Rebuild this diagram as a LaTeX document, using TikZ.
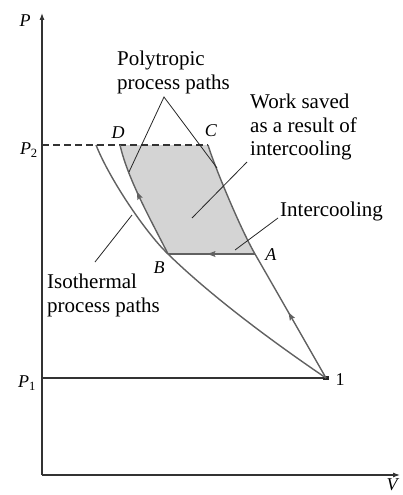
\documentclass[tikz,border=0pt]{standalone}
\usepackage{fontspec}
\setmainfont{Liberation Serif}
\usepackage{tikz}
\usetikzlibrary{arrows.meta,positioning,decorations.markings}

\begin{document}
\begin{tikzpicture}[x=1pt, y=-1pt, >=Latex,
  axis/.style={draw=black!80, line width=1.1pt},
  proc/.style={draw=black!62, line width=1.4pt},
  leader/.style={draw=black!85, line width=0.8pt},
  midarrow/.style={postaction={decorate}, decoration={markings,
    mark=at position #1 with {\fill[black!62] (4pt,0pt) -- (-4pt,3pt) -- (-2.5pt,0pt) -- (-4pt,-3pt) -- cycle;}}},
  note/.style={align=left, inner sep=0pt, font=\fontsize{21}{23.5}\selectfont},
  lbl/.style={inner sep=0pt, font=\fontsize{18}{20}\selectfont}]
  \useasboundingbox (0,0) rectangle (402,495);

  % states on the P-V diagram
  \coordinate (O) at (42,475);
  \coordinate (s1) at (326,378);
  \coordinate (A) at (255,254);
  \coordinate (B) at (168,254);
  \coordinate (C) at (208,145);
  \coordinate (D) at (120,145);
  \coordinate (T) at (96,145);
  \coordinate (ytop) at (42,13);
  \coordinate (xend) at (400,475);
  \coordinate (p2) at (42,145);
  \coordinate (p1) at (42,378);

  % work saved
  \fill[black!17] (D) -- (C) .. controls (214,165) and (240,228) .. (A) -- (B)
    .. controls (152,222) and (128,180) .. (D) -- cycle;

  % axes and pressure levels
  \draw[axis, -{Latex[length=7pt,width=5pt]}] (O) -- (ytop);
  \draw[axis, -{Latex[length=7pt,width=5pt]}] (O) -- (xend);
  \draw[axis, dashed, dash pattern=on 7pt off 4pt] (p2) -- (C);
  \draw[axis] (p1) -- (s1);
  \fill[black!85] (s1) ++(-3,-1.6) rectangle ++(6,3.2);

  % process paths
  \draw[proc, midarrow=0.5] (s1) .. controls (302,336) and (278,294) .. (A);
  \draw[proc] (A) .. controls (240,228) and (214,165) .. (C);
  \draw[proc] (s1) .. controls (270,340) and (210,295) .. (B)
    .. controls (146,233) and (110,180) .. (T);
  \draw[proc, midarrow=0.55] (B) .. controls (152,222) and (128,180) .. (D);
  \draw[proc, midarrow=0.5] (A) -- (B);

  % labels
  \node[lbl] (lP) at (25,21) {\textit{P}};
  \node[lbl, anchor=east] (lP2) at (38,150) {\textit{P}\textsubscript{2}};
  \node[lbl, anchor=east] (lP1) at (36,383) {\textit{P}\textsubscript{1}};
  \node[lbl] (lV) at (393,485) {\textit{V}};
  \node[lbl] (l1) at (340,380) {1};
  \node[lbl] (lA) at (271,255) {\textit{A}};
  \node[lbl] (lB) at (159,268) {\textit{B}};
  \node[lbl] (lC) at (211,131) {\textit{C}};
  \node[lbl] (lD) at (118,133) {\textit{D}};

  % notes and leaders
  \node[note, anchor=north west] (polytxt) at (117,51) {Polytropic\\process paths};
  \node[note, anchor=north west] (worktxt) at (250,94) {Work saved\\as a result of\\intercooling};
  \node[note, anchor=north west] (cooltxt) at (280,202) {Intercooling};
  \node[note, anchor=north west] (isotxt) at (47,274) {Isothermal\\process paths};
  \coordinate (polytip) at (164,97);
  \coordinate (polyL) at (129,172);
  \coordinate (polyR) at (217,168);
  \coordinate (workA) at (247,162);
  \coordinate (workB) at (192,218);
  \coordinate (coolA) at (278,218);
  \coordinate (coolB) at (235,250);
  \coordinate (isoA) at (95,262);
  \coordinate (isoB) at (132,215);
  \draw[leader] (polyL) -- (polytip) -- (polyR);
  \draw[leader] (workA) -- (workB);
  \draw[leader] (coolA) -- (coolB);
  \draw[leader] (isoA) -- (isoB);
\end{tikzpicture}
\end{document}
